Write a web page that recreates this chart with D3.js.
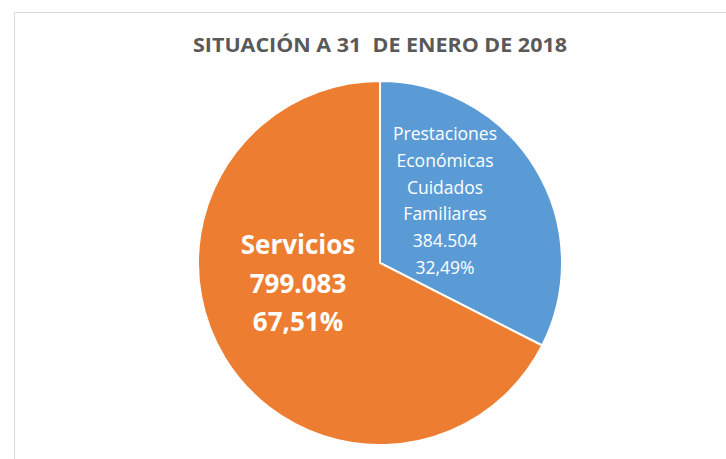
<!DOCTYPE html>
<html>
<head>
<meta charset="utf-8">
<script src="https://cdn.jsdelivr.net/npm/d3@7"></script>
<style>
  body { margin: 0; background: #fff; }
  svg { display: block; font-family: 'Open Sans', 'Liberation Sans', sans-serif; }
</style>
</head>
<body>
<svg></svg>
<script>
const w = 726;
const h = 459;

// data
const categories = ['Prestaciones Económicas Cuidados Familiares', 'Servicios'];
const values = [384504, 799083];
const valueLabels = ['384.504', '799.083'];
const percentLabels = ['32,49%', '67,51%'];
const labelLines = [
    ['Prestaciones', 'Económicas', 'Cuidados', 'Familiares'],
    ['Servicios']
];
const colors = ['#5b9bd5', '#ed7d31'];

const svg = d3.select('svg').attr('width', w).attr('height', h);

// chart frame
svg.append('path')
    .attr('d', 'M14.5,' + h + ' V12.5 H' + w)
    .attr('fill', 'none')
    .attr('stroke', '#d9d9d9')
    .attr('stroke-width', 1);

svg.append('text')
    .attr('x', 380)
    .attr('y', 52)
    .attr('text-anchor', 'middle')
    .attr('font-size', 19)
    .attr('font-weight', 'bold')
    .attr('fill', '#595959')
    .attr('textLength', 374)
    .attr('lengthAdjust', 'spacingAndGlyphs')
    .style('white-space', 'pre')
    .text('SITUACIÓN A 31  DE ENERO DE 2018');

const cx = 380, cy = 263, r = 182;

const pie = d3.pie().sort(null).value((d) => d);
const arc = d3.arc().innerRadius(0).outerRadius(r);
const arcs = pie(values);

const g = svg.append('g').attr('transform', 'translate(' + cx + ',' + cy + ')');

g.selectAll('path')
    .data(arcs)
    .enter()
    .append('path')
    .attr('d', arc)
    .attr('fill', (d, i) => colors[i])
    .attr('stroke', '#fff')
    .attr('stroke-width', 2);

// blue slice label
const blueLines = labelLines[0].concat([valueLabels[0], percentLabels[0]]);
const tb = g.append('text')
    .attr('text-anchor', 'middle')
    .attr('fill', '#fff')
    .attr('font-size', 17.5);
blueLines.forEach((s, i) => {
    tb.append('tspan')
        .attr('x', 445 - cx)
        .attr('y', 140 - cy + i * 26.8)
        .text(s);
});

// orange slice label
const orangeLines = labelLines[1].concat([valueLabels[1], percentLabels[1]]);
const to = g.append('text')
    .attr('text-anchor', 'middle')
    .attr('fill', '#fff')
    .attr('font-size', 26)
    .attr('font-weight', 'bold');
orangeLines.forEach((s, i) => {
    to.append('tspan')
        .attr('x', 298 - cx)
        .attr('y', 254 - cy + i * 38.5)
        .text(s);
});
</script>
</body>
</html>
